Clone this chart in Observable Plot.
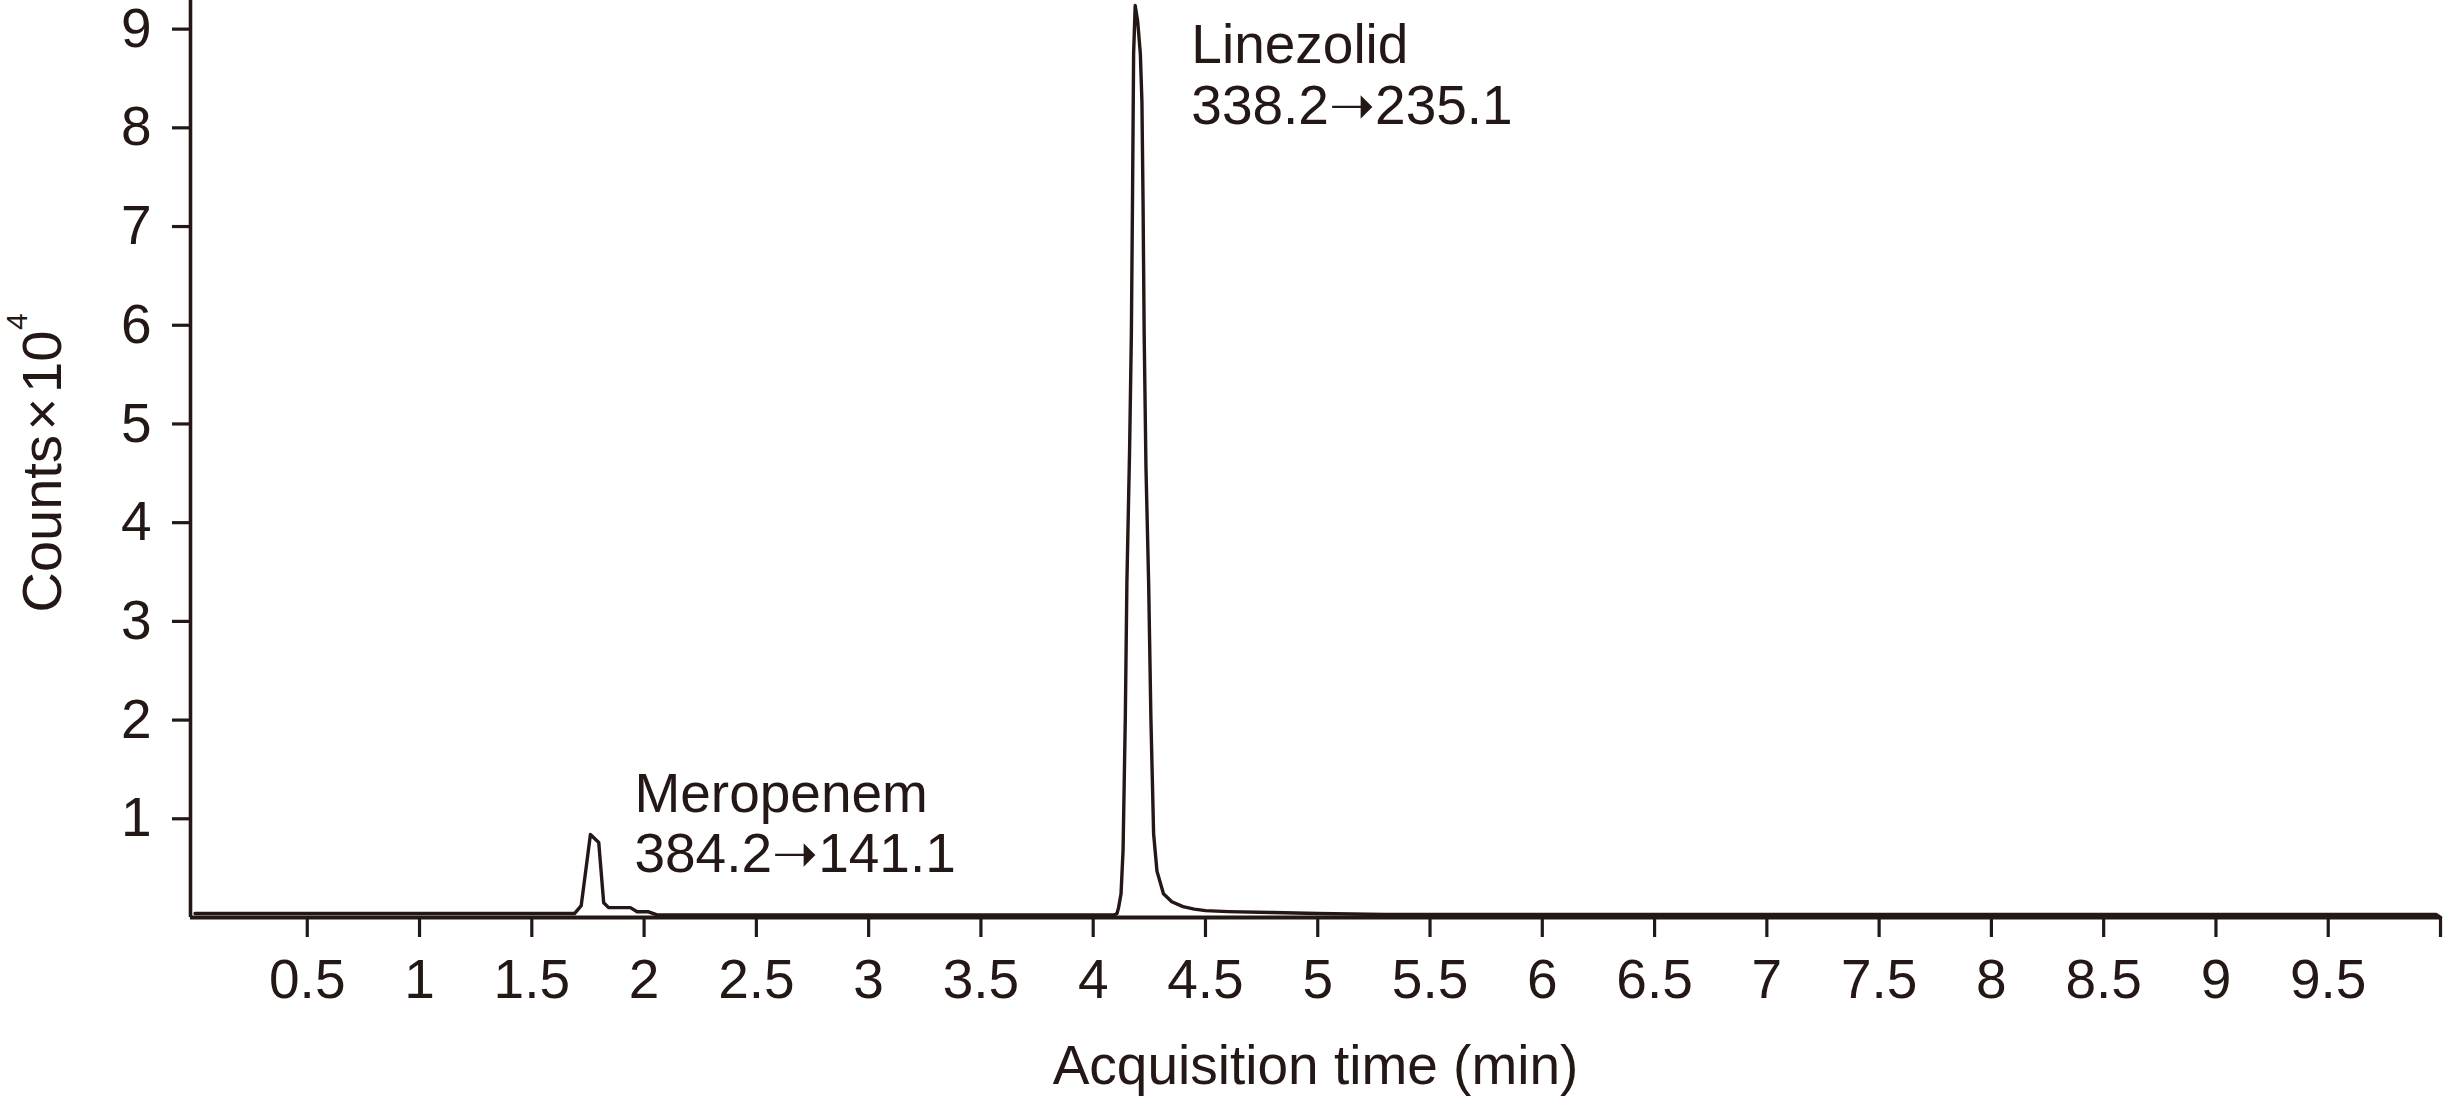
<!DOCTYPE html>
<html>
<head>
<meta charset="utf-8">
<script src="https://cdn.jsdelivr.net/npm/d3@7"></script>
<script src="https://cdn.jsdelivr.net/npm/@observablehq/plot@0.6"></script>
<style>
  html, body { margin: 0; padding: 0; background: #ffffff; }
  #chart svg { display: block; }
</style>
</head>
<body>
<div id="chart"></div>
<script>
// Chromatogram trace: acquisition time (min) and counts (x10^4)
const times = [0, 1.69, 1.72, 1.761, 1.798, 1.820, 1.842, 1.939, 1.969, 2.020, 2.058,
  4.096, 4.106, 4.113, 4.124, 4.133, 4.143, 4.150, 4.162, 4.170, 4.175, 4.180, 4.187,
  4.198, 4.210, 4.217, 4.222, 4.227, 4.235, 4.247, 4.257, 4.269, 4.284, 4.313, 4.35,
  4.40, 4.45, 4.5, 4.6, 4.8, 5.0, 5.3, 9.98, 10.0];
const counts = [0.04, 0.04, 0.12, 0.84, 0.76, 0.15, 0.10, 0.10, 0.058, 0.058, 0.027,
  0.027, 0.04, 0.10, 0.24, 0.68, 2.02, 3.38, 4.73, 5.91, 7.26, 8.75, 9.24,
  9.08, 8.75, 8.27, 7.26, 5.91, 4.56, 3.38, 2.02, 0.85, 0.47, 0.24, 0.16,
  0.11, 0.085, 0.07, 0.06, 0.05, 0.04, 0.03, 0.03, 0.0];

// Peak annotations
const peakLabels = ["Meropenem\n384.2\u279d141.1", "Linezolid\n338.2\u279d235.1"];
const peakLabelX = [1.957, 4.437];
const peakLabelY = [0.456, 8.04];

// Axis ticks
const xTicks = [0.5, 1, 1.5, 2, 2.5, 3, 3.5, 4, 4.5, 5, 5.5, 6, 6.5, 7, 7.5, 8, 8.5, 9, 9.5, 10];
const xTickLabels = ["0.5", "1", "1.5", "2", "2.5", "3", "3.5", "4", "4.5", "5", "5.5", "6", "6.5", "7", "7.5", "8", "8.5", "9", "9.5", ""];
const yTicks = [1, 2, 3, 4, 5, 6, 7, 8, 9];
const yTickLabels = ["1", "2", "3", "4", "5", "6", "7", "8", "9"];

const xTitle = "Acquisition time (min)";
const yTitle = "Counts\u200a\u00d7\u200a10";
const yTitleExp = "4";

const trace = times.map((t, i) => ({time: t, count: counts[i]}));
const annotations = peakLabels.map((s, i) => ({label: s, x: peakLabelX[i], y: peakLabelY[i]}));

const ink = "#231815";
const W = 2443, H = 1096;

const chart = Plot.plot({
  width: W,
  height: H,
  marginTop: 0,
  marginBottom: 179,
  marginLeft: 190,
  marginRight: 3,
  style: {
    fontFamily: "'Liberation Sans', Arial, Helvetica, 'DejaVu Sans', sans-serif",
    fontSize: "54px",
    color: ink,
    background: "#ffffff",
    overflow: "visible"
  },
  x: {domain: [-0.02, 10]},
  y: {domain: [0, 9.29]},
  marks: [
    Plot.axisX({
      ticks: xTicks,
      tickFormat: d => xTickLabels[xTicks.indexOf(d)],
      tickSize: 20,
      tickPadding: 21,
      strokeWidth: 3.2,
      stroke: ink,
      fill: ink,
      fontSize: 55,
      label: null
    }),
    Plot.axisY({
      ticks: yTicks,
      tickFormat: d => yTickLabels[yTicks.indexOf(d)],
      tickSize: 18,
      tickPadding: 21,
      strokeWidth: 3.2,
      stroke: ink,
      fill: ink,
      fontSize: 55,
      label: null
    }),
    Plot.ruleX([-0.02], {stroke: ink, strokeWidth: 3.6, y1: 0, y2: 9.29}),
    Plot.ruleY([0], {stroke: ink, strokeWidth: 3.8, x1: -0.02, x2: 10}),
    Plot.line(trace, {x: "time", y: "count", stroke: ink, strokeWidth: 3.4, strokeLinejoin: "round", curve: "linear"}),
    Plot.text(annotations, {
      x: "x", y: "y", text: "label",
      textAnchor: "start", lineAnchor: "bottom", lineHeight: 1.1,
      fontSize: 55, fill: ink
    }),
    Plot.text([xTitle], {
      text: d => d, frameAnchor: "bottom", lineAnchor: "bottom",
      dy: 166, fontSize: 55, fill: ink
    }),
    Plot.text([yTitle], {
      text: d => d, frameAnchor: "left", rotate: -90,
      textAnchor: "start", lineAnchor: "bottom",
      dx: -130, dy: 153.5, fontSize: 56, fill: ink
    }),
    Plot.text([yTitleExp], {
      text: d => d, frameAnchor: "left", rotate: -90,
      textAnchor: "start", lineAnchor: "bottom",
      dx: -164, dy: -129, fontSize: 30, fill: ink
    })
  ]
});

document.getElementById("chart").appendChild(chart);
</script>
</body>
</html>
